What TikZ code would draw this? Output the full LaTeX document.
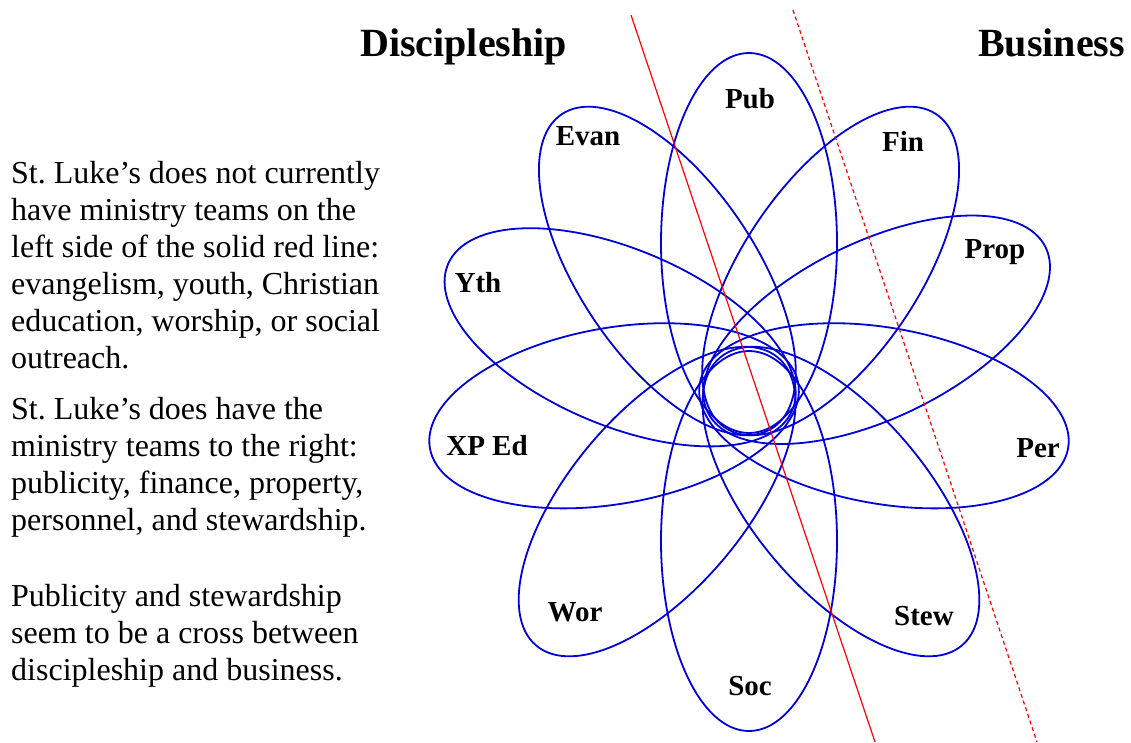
\documentclass[tikz,border=0pt]{standalone}
\usepackage{fontspec}
\setmainfont{Liberation Serif}
\definecolor{petalblue}{RGB}{0,0,215}
\frenchspacing
\begin{document}
\begin{tikzpicture}[x=1pt,y=-1pt,
    petal/.style={draw=petalblue,line width=1.8pt},
    lbl/.style={font=\fontsize{29}{34}\selectfont\bfseries,anchor=base,inner sep=0pt},
    title/.style={font=\fontsize{40}{48}\selectfont\bfseries,anchor=base west,inner sep=0pt},
    para/.style={font=\fontsize{32}{37}\selectfont,align=left,anchor=north west,inner sep=0pt}]
    \useasboundingbox (0,0) rectangle (1131,742);
    \coordinate (C) at (749,392);
    \foreach \ang/\len/\off in {90/190/149, 56/189/146, 26/188/142, -10/187/137, -50/188/143,
        -90/190/149, -130/188/143, 190/187/137, 157/187/140, 124/189/146}
        \draw[petal,shift={(C)},rotate=\ang] (\off,0) ellipse [x radius=\len, y radius=88];
    \coordinate (soltop) at (631,15);
    \coordinate (solbot) at (875,742);
    \coordinate (dashtop) at (793,10);
    \coordinate (dashbot) at (1037,742);
    \draw[red,line width=1.2pt] (soltop) -- (solbot);
    \draw[red,line width=1.2pt,dash pattern=on 4pt off 3pt] (dashtop) -- (dashbot);
    \node[title] (disc) at (360,56) {Discipleship};
    \node[title] (bus) at (978,56) {Business};
    \node[lbl] (pub) at (750,108) {Pub};
    \node[lbl] (evan) at (588,145) {Evan};
    \node[lbl] (fin) at (903,151) {Fin};
    \node[lbl] (yth) at (478,292) {Yth};
    \node[lbl] (prop) at (995,258) {Prop};
    \node[lbl] (xped) at (487,455) {XP Ed};
    \node[lbl] (per) at (1038,457) {Per};
    \node[lbl] (wor) at (575,621) {Wor};
    \node[lbl] (stew) at (924,625) {Stew};
    \node[lbl] (soc) at (750,695) {Soc};
    \node[para] (para1) at (11,161) {St. Luke’s does not currently\\have ministry teams on the\\left side of the solid red line:\\evangelism, youth, Christian\\education, worship, or social\\outreach.};
    \node[para] (para2) at (11,397) {St. Luke’s does have the\\ministry teams to the right:\\publicity, finance, property,\\personnel, and stewardship.};
    \node[para] (para3) at (11,584) {Publicity and stewardship\\seem to be a cross between\\discipleship and business.};
\end{tikzpicture}
\end{document}
